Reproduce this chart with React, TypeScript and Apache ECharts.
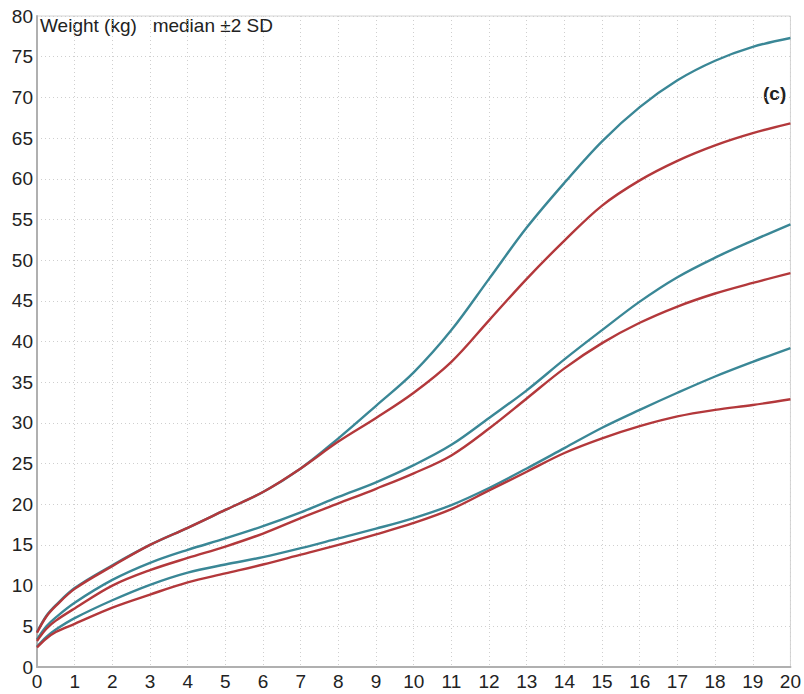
import React, { useEffect, useRef } from "react";
import * as echarts from "echarts";

const ages = [0, 0.25, 0.5, 1, 2, 3, 4, 5, 6, 7, 8, 9, 10, 11, 12, 13, 14, 15, 16, 17, 18, 19, 20];
const boysPlus2 = [4.3, 6.3, 7.6, 9.7, 12.5, 15.0, 17.1, 19.3, 21.5, 24.4, 28.1, 32.1, 36.2, 41.4, 47.7, 54.0, 59.5, 64.6, 68.8, 72.1, 74.5, 76.2, 77.3];
const girlsPlus2 = [4.2, 6.2, 7.5, 9.6, 12.4, 15.0, 17.1, 19.3, 21.5, 24.4, 27.7, 30.6, 33.7, 37.5, 42.6, 47.7, 52.4, 56.7, 59.8, 62.2, 64.1, 65.6, 66.8];
const boysMedian = [3.4, 5.0, 6.1, 7.9, 10.7, 12.8, 14.4, 15.8, 17.3, 19.0, 20.9, 22.7, 24.8, 27.3, 30.6, 34.0, 37.8, 41.4, 44.9, 47.9, 50.3, 52.4, 54.4];
const girlsMedian = [3.2, 4.7, 5.7, 7.2, 10.0, 11.9, 13.4, 14.8, 16.4, 18.3, 20.1, 21.9, 23.8, 26.0, 29.3, 33.0, 36.7, 39.8, 42.3, 44.3, 45.9, 47.2, 48.4];
const boysMinus2 = [2.5, 3.7, 4.6, 6.0, 8.2, 10.1, 11.6, 12.6, 13.5, 14.6, 15.8, 17.0, 18.3, 19.9, 22.0, 24.4, 26.9, 29.4, 31.6, 33.7, 35.7, 37.5, 39.2];
const girlsMinus2 = [2.4, 3.5, 4.3, 5.3, 7.3, 8.9, 10.4, 11.5, 12.6, 13.8, 15.0, 16.3, 17.7, 19.4, 21.7, 24.0, 26.3, 28.1, 29.6, 30.8, 31.6, 32.2, 32.9];

const titleText = "Weight (kg)   median ±2 SD";
const panelLabel = "(c)";

const TEAL = "#3a8796";
const RED = "#b3383b";
const FONT = "Liberation Sans, Arial, sans-serif";

export default function App() {
  const ref = useRef<HTMLDivElement>(null);
  useEffect(() => {
    if (!ref.current) return;
    const chart = echarts.init(ref.current, undefined, { renderer: "svg" });
    const mk = (name: string, vals: number[], color: string) => ({
      name,
      type: "line",
      data: ages.map((a, i) => [a, vals[i]]),
      smooth: 0.35,
      showSymbol: false,
      symbol: "none",
      lineStyle: { color, width: 2.4 },
      itemStyle: { color },
      z: color === RED ? 3 : 2,
    });
    chart.setOption({
      animation: false,
      textStyle: { fontFamily: FONT },
      grid: {
        left: 37,
        right: 11,
        top: 16,
        bottom: 27,
        show: true,
        borderColor: "#d4d4d4",
        borderWidth: 1,
      },
      graphic: [
        {
          type: "text",
          left: 40,
          top: 16,
          style: { text: titleText, fontSize: 19, fill: "#222", fontFamily: FONT },
        },
        {
          type: "text",
          left: 763,
          top: 84,
          style: { text: panelLabel, fontSize: 19, fontWeight: "bold", fill: "#222", fontFamily: FONT },
        },
      ],
      xAxis: {
        type: "value",
        min: 0,
        max: 20,
        interval: 1,
        axisLine: { show: true, lineStyle: { color: "#b0b0b0", width: 2 } },
        axisTick: { show: false },
        axisLabel: { color: "#222", fontSize: 19, margin: 5 },
        splitLine: { show: true, lineStyle: { color: "#cfcfcf", type: [1, 3], width: 1 } },
      },
      yAxis: {
        type: "value",
        min: 0,
        max: 80,
        interval: 5,
        axisLine: { show: true, lineStyle: { color: "#b0b0b0", width: 2 } },
        axisTick: { show: false },
        axisLabel: { color: "#222", fontSize: 19, margin: 4 },
        splitLine: { show: true, lineStyle: { color: "#cfcfcf", type: [1, 3], width: 1 } },
      },
      series: [
        mk("Boys +2 SD", boysPlus2, TEAL),
        mk("Boys median", boysMedian, TEAL),
        mk("Boys -2 SD", boysMinus2, TEAL),
        mk("Girls +2 SD", girlsPlus2, RED),
        mk("Girls median", girlsMedian, RED),
        mk("Girls -2 SD", girlsMinus2, RED),
      ],
    });
    return () => chart.dispose();
  }, []);
  return <div ref={ref} style={{ width: 804, height: 694, position: "absolute", left: 0, top: 0, background: "#fff" }} />;
}
